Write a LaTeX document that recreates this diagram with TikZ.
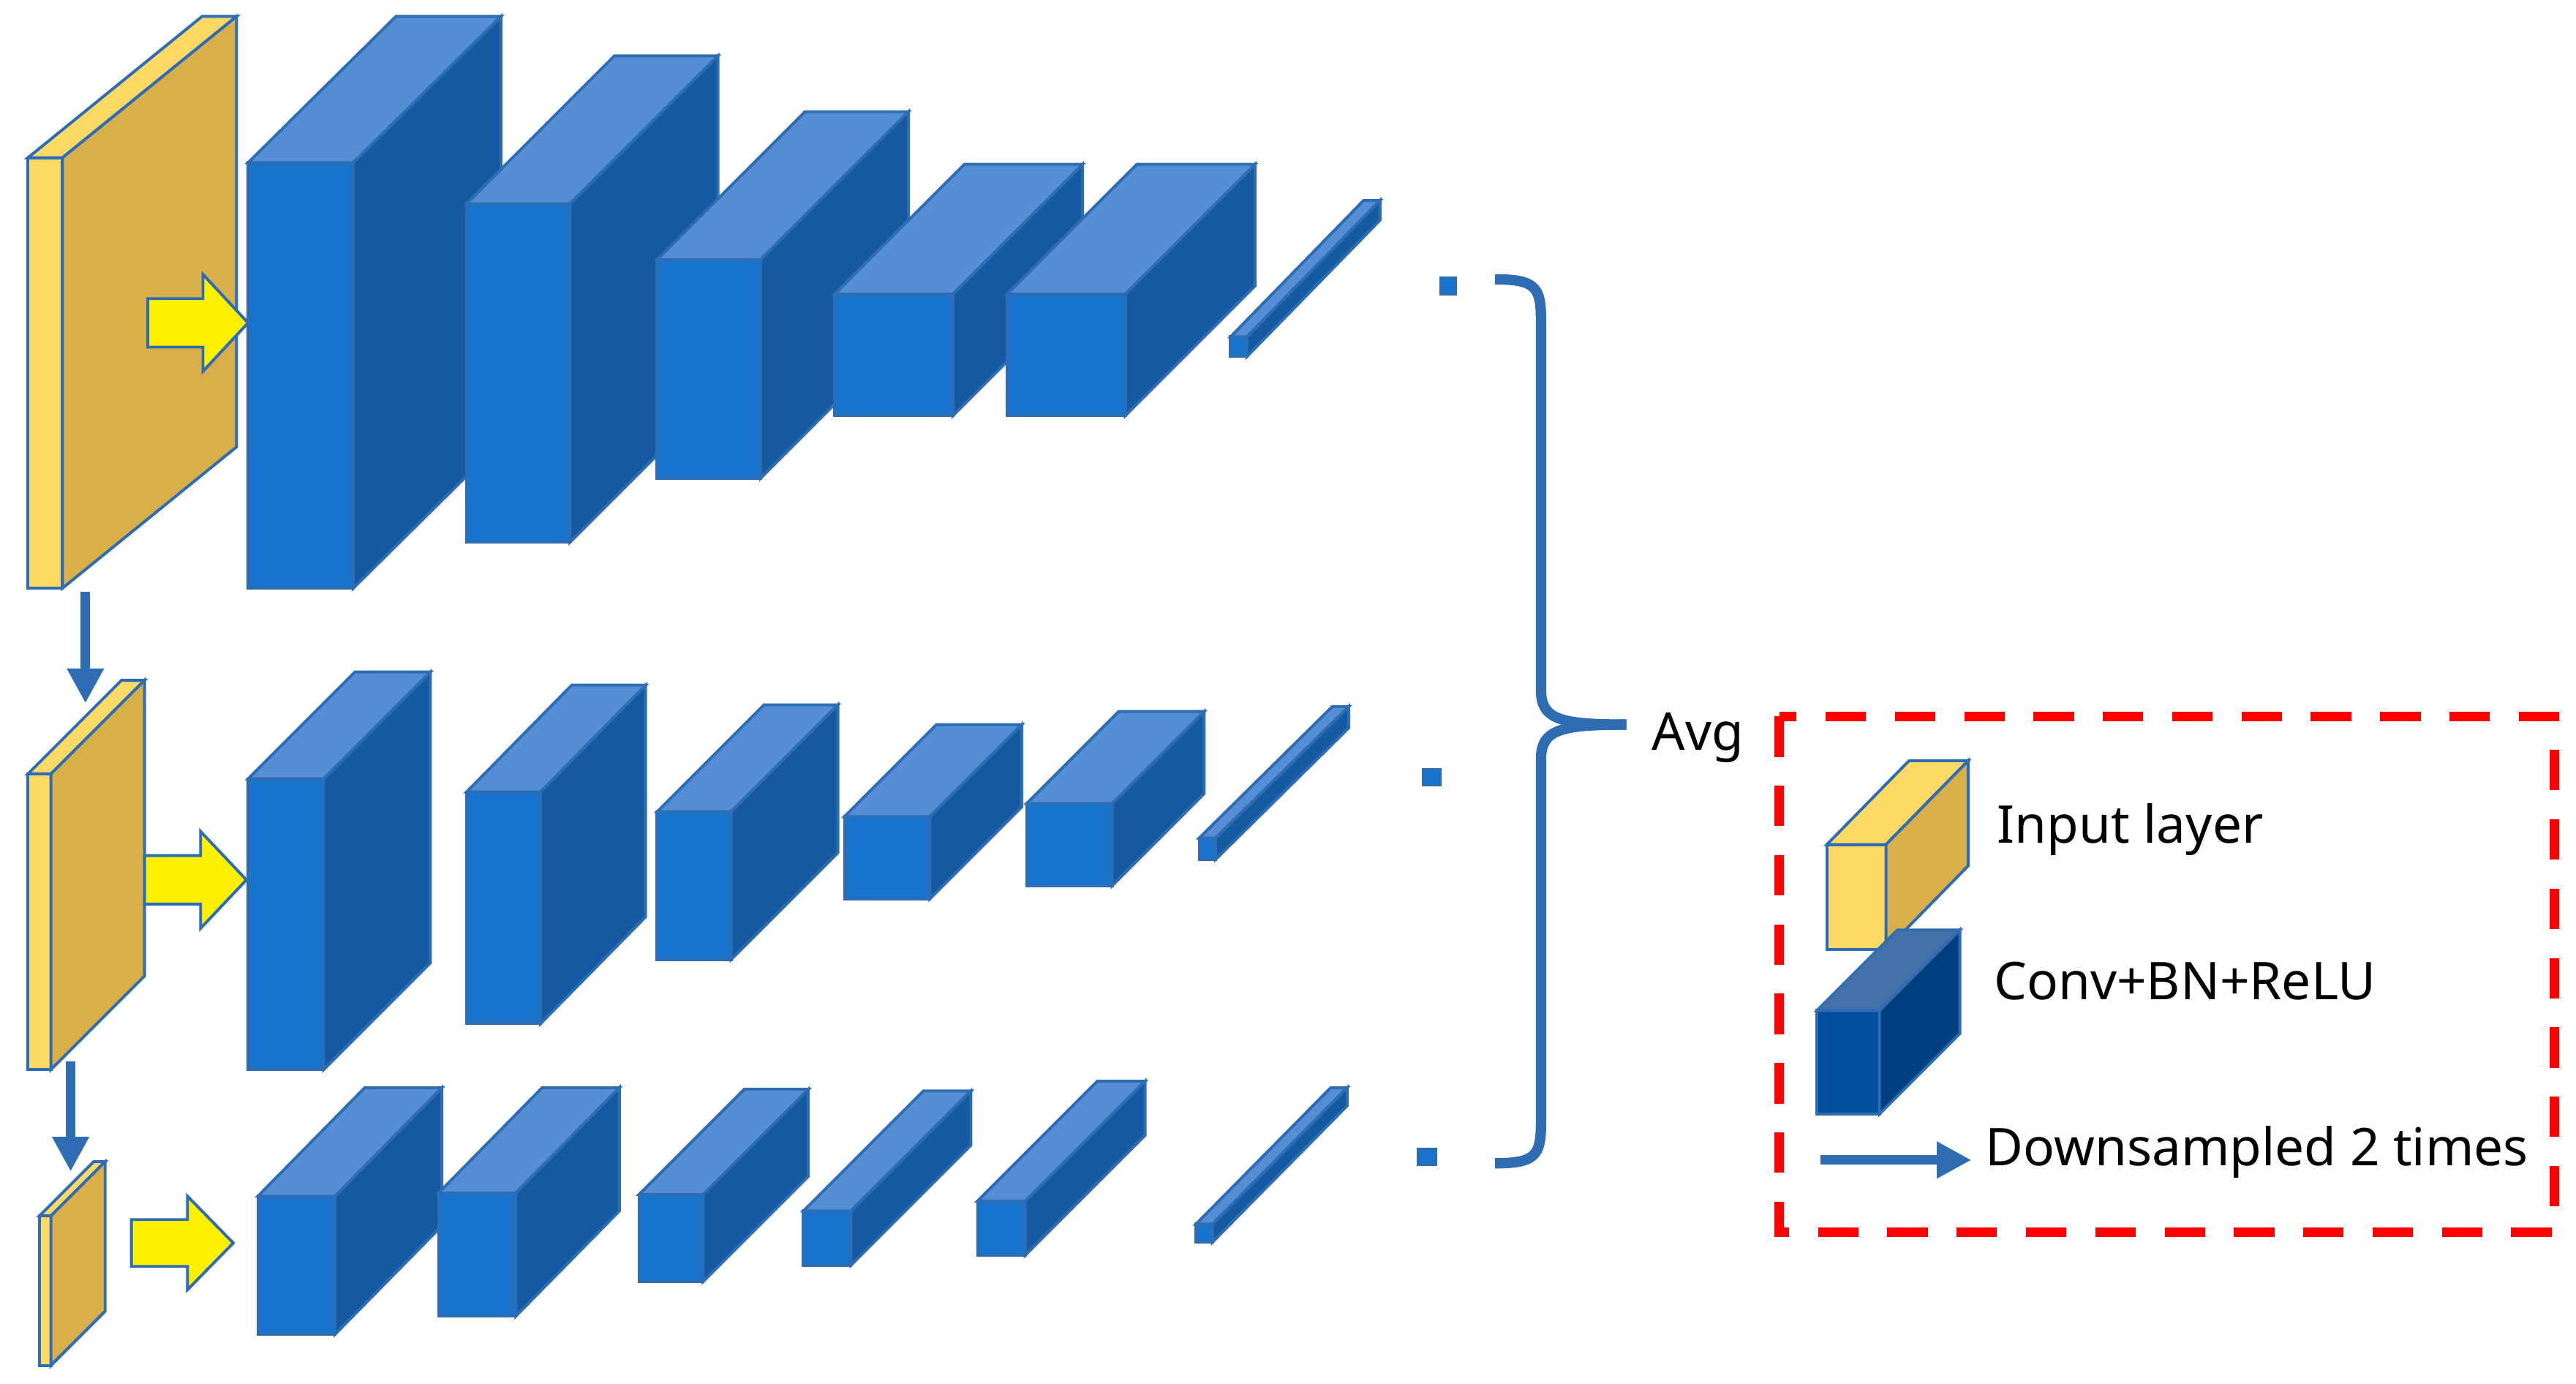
\documentclass[tikz,border=0pt]{standalone}
\usepackage{fontspec}
\setmainfont{Noto Sans}
\usetikzlibrary{arrows.meta}
\definecolor{bF}{HTML}{1874CD}\definecolor{bS}{HTML}{1559A3}\definecolor{bT}{HTML}{558ED5}
\definecolor{yF}{HTML}{FFD966}\definecolor{yS}{HTML}{D9AF4A}\definecolor{yT}{HTML}{FFD966}
\definecolor{dF}{HTML}{00509E}\definecolor{dS}{HTML}{003F7F}\definecolor{dT}{HTML}{4472A8}
\definecolor{edge}{HTML}{2E6DB4}
\newcommand\cub[7]{%
 \filldraw[draw=edge,line width=0.5pt,fill=#7F] (#1,#2) rectangle (#3,#4);
 \filldraw[draw=edge,line width=0.5pt,fill=#7T] (#1,#2) -- (#3,#2) -- ++(#5,-#6) -- ++(#1-#3,0) -- cycle;
 \filldraw[draw=edge,line width=0.5pt,fill=#7S] (#3,#2) -- ++(#5,-#6) -- ++(0,#4-#2) -- (#3,#4) -- cycle;}
\newcommand\yarr[4]{% x0 x1 ytop ybot
 \filldraw[draw=edge,line width=0.5pt,fill=yellow] ({#1},{#3+0.25*(#4-#3)}) -- ({#1+0.55*(#2-#1)},{#3+0.25*(#4-#3)}) -- ({#1+0.55*(#2-#1)},#3) -- (#2,{0.5*(#3+#4)}) -- ({#1+0.55*(#2-#1)},#4) -- ({#1+0.55*(#2-#1)},{#4-0.25*(#4-#3)}) -- (#1,{#4-0.25*(#4-#3)}) -- cycle;}
\tikzset{dn/.style={edge,line width=1.6pt,-{Triangle[length=6pt,width=6pt]}},
 lbl/.style={anchor=west,font=\fontsize{9}{10}\selectfont,inner sep=0pt}}
\begin{document}
\begin{tikzpicture}[x=0.01cm,y=-0.01cm]
\useasboundingbox (0,0) rectangle (1568,842);
% row 1
\cub{17}{96}{38}{358}{106}{86}{y}
\yarr{90}{151}{167}{226}
\cub{151}{99}{215}{358}{90}{89}{b}
\cub{284}{124}{347}{330}{90}{90}{b}
\cub{400}{158}{463}{291}{90}{90}{b}
\cub{508}{179}{580}{253}{79}{79}{b}
\cub{613}{179}{685}{253}{79}{79}{b}
\cub{749}{205}{759}{217}{81}{83}{b}
\filldraw[draw=edge,fill=bF] (877,169) rectangle (886,179);
% row 2
\cub{17}{471}{31}{651}{57}{57}{y}
\yarr{88}{150}{506}{565}
\cub{151}{474}{197}{651}{65}{65}{b}
\cub{284}{482}{329}{623}{64}{65}{b}
\cub{400}{494}{445}{584}{65}{65}{b}
\cub{514}{497}{566}{547}{56}{56}{b}
\cub{625}{489}{677}{539}{56}{56}{b}
\cub{730}{510}{740}{523}{81}{80}{b}
\filldraw[draw=edge,fill=bF] (866,468) rectangle (877,478);
% row 3
\cub{24}{740}{31}{831}{33}{33}{y}
\yarr{80}{142}{728}{785}
\cub{157}{728}{204}{812}{65}{66}{b}
\cub{267}{726}{314}{801}{63}{64}{b}
\cub{389}{727}{428}{780}{64}{64}{b}
\cub{489}{737}{518}{770}{73}{73}{b}
\cub{595}{731}{624}{764}{73}{73}{b}
\cub{728}{745}{738}{756}{82}{83}{b}
\filldraw[draw=edge,fill=bF] (863,699) rectangle (874,709);
% down arrows
\coordinate (d1) at (52,360); \coordinate (d2) at (52,428);
\coordinate (d3) at (43,646); \coordinate (d4) at (43,713);
\draw[dn] (d1) -- (d2); \draw[dn] (d3) -- (d4);
% brace
\draw[edge,line width=1.8pt] (910,170) .. controls (935,170) and (938,175) .. (938,195) -- (938,420) .. controls (938,438) and (950,441) .. (990,441);
\draw[edge,line width=1.8pt] (910,708) .. controls (935,708) and (938,703) .. (938,683) -- (938,462) .. controls (938,444) and (950,441) .. (990,441);
\node[lbl] (avg) at (1005,449) {Avg};
% legend
\draw[red,line width=1.6pt,dash pattern=on 7pt off 5pt] (1083,436) rectangle (1555,750);
\cub{1112}{514}{1148}{578}{50}{51}{y}
\node[lbl] (l1) at (1215,505) {Input layer};
\cub{1106}{615}{1144}{678}{49}{49}{d}
\node[lbl] (l2) at (1213,597) {Conv+BN+ReLU};
\coordinate (a1) at (1108,706); \coordinate (a2) at (1200,706);
\draw[dn] (a1) -- (a2);
\node[lbl] (l3) at (1208,701) {Downsampled 2 times};
\end{tikzpicture}
\end{document}
